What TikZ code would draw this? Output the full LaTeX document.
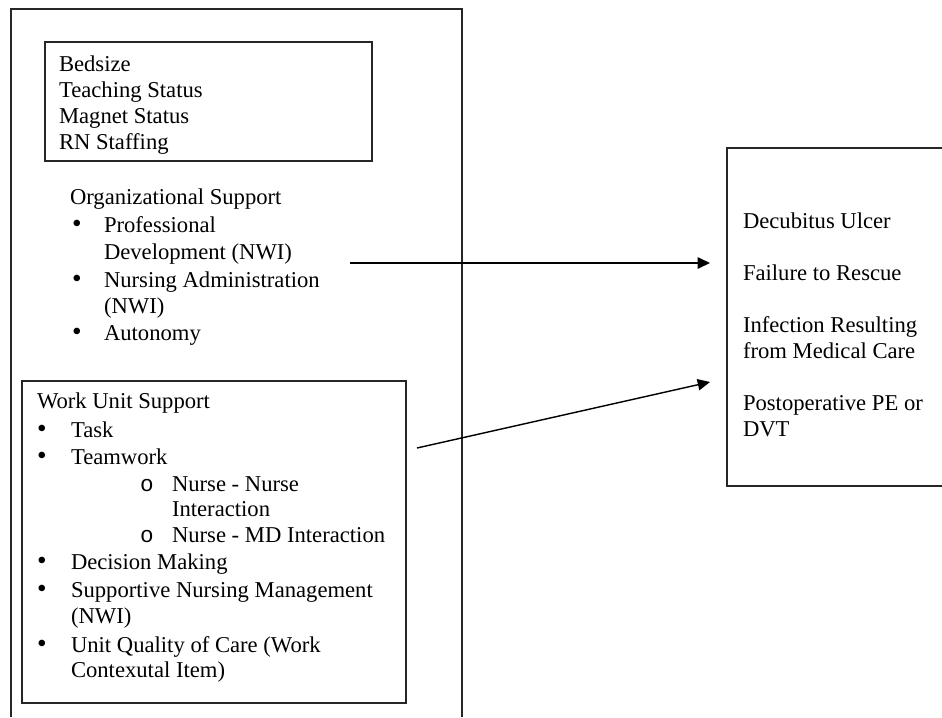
\documentclass[tikz,border=0pt]{standalone}
\usepackage{fontspec}
\setmainfont{Liberation Serif}
\newfontfamily\monofam{Liberation Mono}
\usetikzlibrary{arrows.meta}
\begin{document}
\begin{tikzpicture}[x=0.53pt,y=-0.53pt,
  txt/.style={anchor=base west, inner sep=0pt, outer sep=0pt, font=\fontsize{12}{13.8}\selectfont},
  bul/.style={anchor=base west, inner sep=0pt, outer sep=0pt, font=\fontsize{14.5}{14}\selectfont},
  subbul/.style={anchor=base west, inner sep=0pt, outer sep=0pt, font=\monofam\fontsize{12}{13.8}\selectfont},
  frame/.style={draw=black!85, line width=0.65pt},
  boxnode/.style={frame, inner sep=0pt, outer sep=0pt},
  conn/.style={draw=black, line width=0.75pt, -{Triangle[length=6.5pt,width=6pt]}}]
\useasboundingbox (0,0) rectangle (942,717);

% outer frame (open at bottom)
\coordinate (obl) at (11,717);
\coordinate (otl) at (11,9);
\coordinate (otr) at (462,9);
\coordinate (obr) at (462,717);
\draw[frame] (obl) -- (otl) -- (otr) -- (obr);

% top box
\node[boxnode, minimum width=327*0.53pt, minimum height=119*0.53pt] (topbox) at (208.5,101.5) {};
\node[txt] (t1) at (59,71) {Bedsize};
\node[txt] (t2) at (59,97) {Teaching Status};
\node[txt] (t3) at (59,123) {Magnet Status};
\node[txt] (t4) at (59,149) {RN Staffing};

% organizational support
\node[txt] (os) at (70,204) {Organizational Support};
\node[bul] (ob1) at (72,232) {\textbullet};
\node[txt] (o1) at (104,232) {Professional};
\node[txt] (o1b) at (104,259) {Development (NWI)};
\node[bul] (ob2) at (72,287) {\textbullet};
\node[txt] (o2) at (104,287) {Nursing Administration};
\node[txt] (o2b) at (104,313) {(NWI)};
\node[bul] (ob3) at (72,340) {\textbullet};
\node[txt] (o3) at (104,340) {Autonomy};

% work unit box
\node[boxnode, minimum width=384*0.53pt, minimum height=322*0.53pt] (wbox) at (214,542) {};
\node[txt] (ws) at (37,408) {Work Unit Support};
\node[bul] (wb1) at (37,437) {\textbullet};
\node[txt] (w1) at (71,437) {Task};
\node[bul] (wb2) at (37,464) {\textbullet};
\node[txt] (w2) at (71,464) {Teamwork};
\node[subbul] (sb1) at (140,491) {o};
\node[txt] (s1) at (172,491) {Nurse - Nurse};
\node[txt] (s1b) at (172,516) {Interaction};
\node[subbul] (sb2) at (140,542) {o};
\node[txt] (s2) at (172,542) {Nurse - MD Interaction};
\node[bul] (wb3) at (37,569) {\textbullet};
\node[txt] (w3) at (71,569) {Decision Making};
\node[bul] (wb4) at (37,597) {\textbullet};
\node[txt] (w4) at (71,597) {Supportive Nursing Management};
\node[txt] (w4b) at (71,623) {(NWI)};
\node[bul] (wb5) at (37,652) {\textbullet};
\node[txt] (w5) at (71,652) {Unit Quality of Care (Work};
\node[txt] (w5b) at (71,677) {Contexutal Item)};

% outcomes box (open at right)
\coordinate (rtr) at (942,148);
\coordinate (rtl) at (727,148);
\coordinate (rbl) at (727,486);
\coordinate (rbr) at (942,486);
\draw[frame] (rtr) -- (rtl) -- (rbl) -- (rbr);
\node[txt] (r1) at (743,228) {Decubitus Ulcer};
\node[txt] (r2) at (743,280) {Failure to Rescue};
\node[txt] (r3) at (743,332) {Infection Resulting};
\node[txt] (r3b) at (743,358) {from Medical Care};
\node[txt] (r4) at (743,410) {Postoperative PE or};
\node[txt] (r4b) at (743,436) {DVT};

% connectors
\coordinate (a1s) at (350,263);
\coordinate (a1e) at (710,263);
\coordinate (a2s) at (417,448);
\coordinate (a2e) at (710,382);
\draw[conn] (a1s) -- (a1e);
\draw[conn] (a2s) -- (a2e);
\end{tikzpicture}
\end{document}
